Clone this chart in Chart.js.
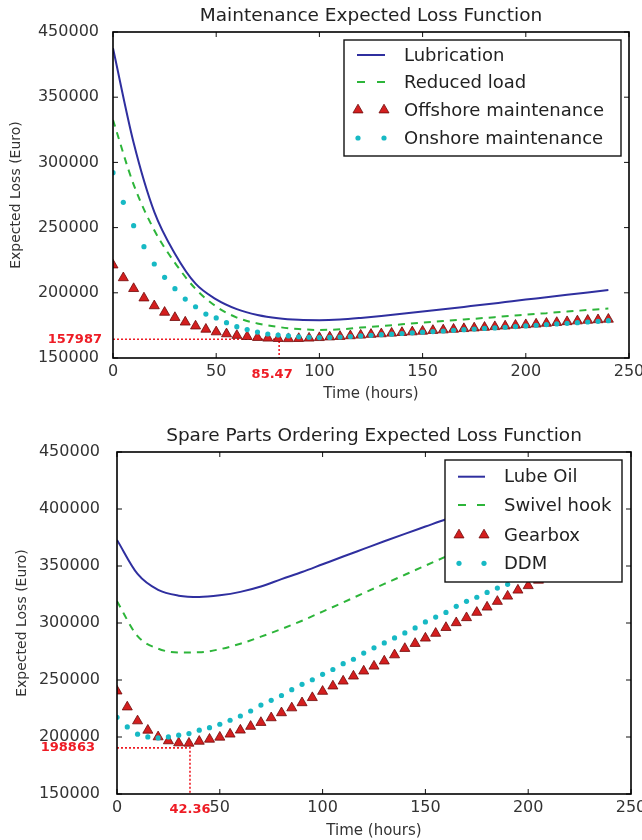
<!DOCTYPE html>
<html><head><meta charset="utf-8">
<script src="https://cdn.jsdelivr.net/npm/chart.js@4.4.1/dist/chart.umd.min.js"></script>
<style>
html,body{margin:0;padding:0;background:#fff;}
#wrap{position:relative;width:642px;height:840px;overflow:hidden;background:#fff;}
.box{position:absolute;left:0;width:642px;}
#b1{top:0;height:410px;}
#b2{top:410px;height:430px;}
</style></head><body>
<div id="wrap"><div class="box" id="b1"><canvas id="c1"></canvas></div><div class="box" id="b2"><canvas id="c2"></canvas></div></div>
<script>
// ---------- DATA ----------
const hoursLine = [0,10,20,30,40,50,60,70,80,90,100,110,120,130,140,150,160,170,180,190,200,210,220,230,240];
const hoursMark = [0,5,10,15,20,25,30,35,40,45,50,55,60,65,70,75,80,85,90,95,100,105,110,115,120,125,130,135,140,145,150,155,160,165,170,175,180,185,190,195,200,205,210,215,220,225,230,235,240];

// Maintenance chart
const maintTitle = 'Maintenance Expected Loss Function';
const maintSeriesNames = ['Lubrication','Reduced load','Offshore maintenance','Onshore maintenance'];
const lubrication = [387500,315000,262000,230000,207000,195000,187500,183000,180500,179300,179000,179500,180700,182200,183900,185600,187400,189200,191000,192900,194800,196600,198500,200300,202100];
const reducedLoad = [332500,283000,248000,223000,203000,189500,181000,176500,173800,172200,171500,172000,173300,174500,175800,177100,178300,179500,180700,182000,183200,184400,185600,186800,188000];
const offshoreMaint = [221300,211500,203200,196000,190000,185000,181000,177500,174500,172000,170000,168500,167300,166400,165700,165200,164900,164800,164900,165200,165600,166100,166500,167000,167500,168100,168500,169000,169500,170000,170500,171100,171500,172000,172500,173000,173500,174000,174500,175100,175500,176000,176600,177200,177800,178400,178900,179300,179700];
const onshoreMaint = [292100,269400,251500,235400,222100,211900,203200,195200,189300,183700,180700,177100,174000,171800,169900,168400,167600,166900,166300,165900,165700,165800,166100,166500,166900,167400,167900,168300,168800,169300,169800,170300,170700,171200,171700,172200,172700,173100,173600,174100,174600,175100,175600,176100,176600,177100,177600,178100,178600];
const maintYTickValues = [150000,200000,250000,300000,350000,400000];
const maintYTickLabels = ['150000','200000','250000','300000','350000','450000'];
const maintOptTime = 80.5, maintOptLoss = 164400;
const maintOptTimeLabel = '85.47', maintOptLossLabel = '157987';

// Spare parts chart
const spareTitle = 'Spare Parts Ordering Expected Loss Function';
const spareSeriesNames = ['Lube Oil','Swivel hook','Gearbox','DDM'];
const lubeOil = [372900,343000,329000,324000,322800,324300,327300,332000,338500,344700,351500,358300,365000,371700,378200,384600,391000,397000,403000,408800,414500,420000,425300,430500,435500];
const swivelHook = [319000,288500,277500,274200,274300,277000,281800,288000,294700,302000,310000,318000,326300,334300,342300,350300,358300,366300,374300,382300,390300,398300,406300,414300,422300];
const gearbox = [240300,226300,214100,205900,200100,196600,194800,194500,196200,198000,199800,202500,206000,209300,212700,216800,221200,225500,230000,234500,240000,244700,249000,253400,257800,262100,266600,272000,277600,282000,286700,290900,296000,300200,304600,309300,313900,318900,323500,328800,332700,337500,342300,347100,351900,356700,361500,366300,371100];
const ddm = [217300,208800,202500,200100,199200,200100,201600,203000,206000,208200,211200,214700,218400,222800,228000,232200,236400,241500,246200,250200,255000,259200,264300,268200,273600,278200,282500,286900,291300,295700,300900,305200,309300,314600,319000,322600,326800,330600,333900,338200,342600,347000,351500,356000,360500,365000,369500,374000,378500];
const spareYTickValues = [150000,200000,250000,300000,350000,400000,450000];
const spareYTickLabels = ['150000','200000','250000','300000','350000','400000','450000'];
const spareOptTime = 35.5, spareOptLoss = 190500;
const spareOptTimeLabel = '42.36', spareOptLossLabel = '198863';

const xTickValues = [0,50,100,150,200,250];
const xTitle = 'Time (hours)';
const yTitle = 'Expected Loss (Euro)';

// ---------- STYLE ----------
const FONT = "'DejaVu Sans', 'Liberation Sans', sans-serif";
Chart.defaults.font.family = FONT;
Chart.defaults.animation = false;
const C_BLUE = '#2f2f9f', C_GREEN = '#2db53a', C_RED = '#d41f1f', C_REDEDGE = '#6e0a0a', C_CYAN = '#17b9c4', C_ANN = '#ee1c25';

const pts = (xs, ys) => ys.map((y, i) => ({x: xs[i], y}));

function makeDatasets(names, l1, l2, m1, m2, optT, optV, yMin) {
  return [
    {label: names[3], data: pts(hoursMark, m2), legendKind: 'dot', showLine: false, pointStyle: 'circle',
     pointRadius: 2.6, pointBackgroundColor: C_CYAN, pointBorderWidth: 0, borderColor: C_CYAN, order: 1, clip: 0},
    {label: names[2], data: pts(hoursMark, m1), legendKind: 'tri', showLine: false, pointStyle: 'triangle',
     pointRadius: 5.8, pointBackgroundColor: C_RED, pointBorderColor: C_REDEDGE, pointBorderWidth: 0.8, borderColor: C_RED, order: 2, clip: 0},
    {label: names[1], data: pts(hoursLine, l2), legendKind: 'dash', borderColor: C_GREEN, borderWidth: 2, borderDash: [7, 6],
     pointRadius: 0, cubicInterpolationMode: 'monotone', order: 3, clip: 0},
    {label: names[0], data: pts(hoursLine, l1), legendKind: 'line', borderColor: C_BLUE, borderWidth: 2,
     pointRadius: 0, cubicInterpolationMode: 'monotone', order: 4, clip: 0},
    {label: 'optimum', data: [{x: 0, y: optV}, {x: optT, y: optV}, {x: optT, y: yMin}], borderColor: C_ANN, borderWidth: 1.6,
     borderDash: [2, 2], pointRadius: 0, tension: 0, order: 5, clip: false}
  ];
}

const framePlugin = {
  id: 'frame',
  afterDatasetsDraw(chart) {
    const ctx = chart.ctx, a = chart.chartArea, xs = chart.scales.x, ys = chart.scales.y;
    ctx.save();
    ctx.strokeStyle = '#111'; ctx.lineWidth = 1;
    ctx.beginPath();
    xs.ticks.forEach(t => { const p = xs.getPixelForValue(t.value); ctx.moveTo(p, a.bottom); ctx.lineTo(p, a.bottom - 5); ctx.moveTo(p, a.top); ctx.lineTo(p, a.top + 5); });
    ys.ticks.forEach(t => { const p = ys.getPixelForValue(t.value); ctx.moveTo(a.left, p); ctx.lineTo(a.left + 5, p); ctx.moveTo(a.right, p); ctx.lineTo(a.right - 5, p); });
    ctx.stroke();
    ctx.lineWidth = 1.6; ctx.strokeStyle = '#000';
    ctx.strokeRect(a.left, a.top, a.right - a.left, a.bottom - a.top);
    ctx.restore();
  }
};

const annPlugin = {
  id: 'annLabels',
  afterDraw(chart, args, o) {
    if (!o || !o.vText) return;
    const ctx = chart.ctx, a = chart.chartArea;
    const px = chart.scales.x.getPixelForValue(o.t), py = chart.scales.y.getPixelForValue(o.v);
    ctx.save();
    ctx.fillStyle = C_ANN; ctx.font = 'bold 13px ' + FONT; ctx.textBaseline = 'middle';
    ctx.textAlign = 'right'; ctx.fillText(o.vText, a.left - o.dx, py);
    ctx.textAlign = 'center'; ctx.fillText(o.tText, px + o.tdx, a.bottom + o.dy);
    ctx.restore();
  }
};

const legendPlugin = {
  id: 'boxLegend',
  afterDraw(chart, args, o) {
    if (!o || !o.rows) return;
    const ctx = chart.ctx;
    ctx.save();
    ctx.fillStyle = '#fff'; ctx.fillRect(o.x, o.y, o.w, o.h);
    ctx.strokeStyle = '#111'; ctx.lineWidth = 1.4; ctx.strokeRect(o.x, o.y, o.w, o.h);
    const items = chart.data.datasets.filter(d => d.legendKind).slice().reverse();
    items.forEach((d, i) => {
      const y = o.rows[i];
      if (d.legendKind === 'line') {
        ctx.beginPath(); ctx.strokeStyle = d.borderColor; ctx.lineWidth = d.borderWidth;
        ctx.moveTo(o.s0, y); ctx.lineTo(o.s1, y); ctx.stroke();
      } else if (d.legendKind === 'dash') {
        ctx.beginPath(); ctx.strokeStyle = d.borderColor; ctx.lineWidth = d.borderWidth;
        ctx.moveTo(o.s0, y); ctx.lineTo(o.s0 + 8, y); ctx.moveTo(o.s1 - 8, y); ctx.lineTo(o.s1, y); ctx.stroke();
      } else if (d.legendKind === 'tri') {
        [o.m0, o.m1].forEach(mx => {
          const r = d.pointRadius;
          ctx.beginPath();
          ctx.moveTo(mx, y - r); ctx.lineTo(mx + r * 0.866, y + r * 0.5); ctx.lineTo(mx - r * 0.866, y + r * 0.5); ctx.closePath();
          ctx.fillStyle = d.pointBackgroundColor; ctx.fill();
          ctx.strokeStyle = d.pointBorderColor; ctx.lineWidth = d.pointBorderWidth; ctx.stroke();
        });
      } else {
        [o.m0, o.m1].forEach(mx => { ctx.beginPath(); ctx.arc(mx, y, d.pointRadius, 0, 2 * Math.PI); ctx.fillStyle = d.pointBackgroundColor; ctx.fill(); });
      }
      ctx.fillStyle = '#222'; ctx.font = '18px ' + FONT; ctx.textBaseline = 'middle'; ctx.textAlign = 'left';
      ctx.fillText(d.label, o.tx, y + 1);
    });
    ctx.restore();
  }
};

function makeChart(canvasId, cfg) {
  return new Chart(document.getElementById(canvasId), {
    type: 'line',
    data: {datasets: cfg.datasets},
    plugins: [framePlugin, annPlugin, legendPlugin],
    options: {
      responsive: true, maintainAspectRatio: false,
      layout: {padding: {left: 0, right: cfg.padRight, top: 0, bottom: 0}},
      plugins: {
        legend: {display: false}, tooltip: {enabled: false},
        title: {display: true, fullSize: false, text: cfg.title, color: '#222', font: {size: 18.5, weight: 'normal'}, padding: cfg.titlePad},
        annLabels: cfg.ann,
        boxLegend: cfg.legend
      },
      scales: {
        x: {
          type: 'linear', min: 0, max: 250,
          afterBuildTicks: s => { s.ticks = xTickValues.map(v => ({value: v})); },
          ticks: {color: '#333', font: {size: 16}, padding: 4, maxRotation: 0, callback: v => String(v)},
          grid: {display: false, drawTicks: false}, border: {display: false},
          title: {display: true, text: xTitle, color: '#333', font: {size: 15}, padding: {top: 0, bottom: cfg.xTitleBottom}},
          afterFit: s => { s.height = cfg.xHeight; s.paddingLeft = 0; s.paddingRight = 0; }
        },
        y: {
          type: 'linear', min: cfg.yMin, max: cfg.yMax,
          afterBuildTicks: s => { s.ticks = cfg.yTicks.map(v => ({value: v})); },
          ticks: {color: '#333', font: {size: 16}, padding: cfg.yTickPad, callback: v => cfg.yLabels[cfg.yTicks.indexOf(v)]},
          grid: {display: false, drawTicks: false}, border: {display: false},
          title: {display: true, text: yTitle, color: '#333', font: {size: 14}, padding: {top: cfg.yTitleTop, bottom: 0}},
          afterFit: s => { s.width = cfg.yWidth; s.paddingTop = 0; s.paddingBottom = 0; }
        }
      }
    }
  });
}

makeChart('c1', {
  datasets: makeDatasets(maintSeriesNames, lubrication, reducedLoad, offshoreMaint, onshoreMaint, maintOptTime, maintOptLoss, 150000),
  title: maintTitle, titlePad: {top: 4.8, bottom: 5}, padRight: 13,
  yMin: 150000, yMax: 400000, yTicks: maintYTickValues, yLabels: maintYTickLabels,
  yWidth: 113, yTickPad: 14, yTitleTop: 8, xHeight: 52, xTitleBottom: 7,
  ann: {t: maintOptTime, v: maintOptLoss, tText: maintOptTimeLabel, vText: maintOptLossLabel, dx: 11, tdx: -7, dy: 17},
  legend: {x: 344, y: 40, w: 277, h: 116, s0: 357, s1: 385, m0: 358, m1: 384, tx: 404, rows: [55, 82, 110, 138]}
});

makeChart('c2', {
  datasets: makeDatasets(spareSeriesNames, lubeOil, swivelHook, gearbox, ddm, spareOptTime, spareOptLoss, 150000),
  title: spareTitle, titlePad: {top: 14.8, bottom: 5}, padRight: 11,
  yMin: 150000, yMax: 450000, yTicks: spareYTickValues, yLabels: spareYTickLabels,
  yWidth: 117, yTickPad: 17, yTitleTop: 13.6, xHeight: 46, xTitleBottom: 0,
  ann: {t: spareOptTime, v: spareOptLoss, tText: spareOptTimeLabel, vText: spareOptLossLabel, dx: 22, tdx: 0, dy: 16},
  legend: {x: 445, y: 50, w: 177, h: 122, s0: 458, s1: 485, m0: 459, m1: 484, tx: 504, rows: [66.7, 95, 125, 153.3]}
});
</script>
</body></html>
